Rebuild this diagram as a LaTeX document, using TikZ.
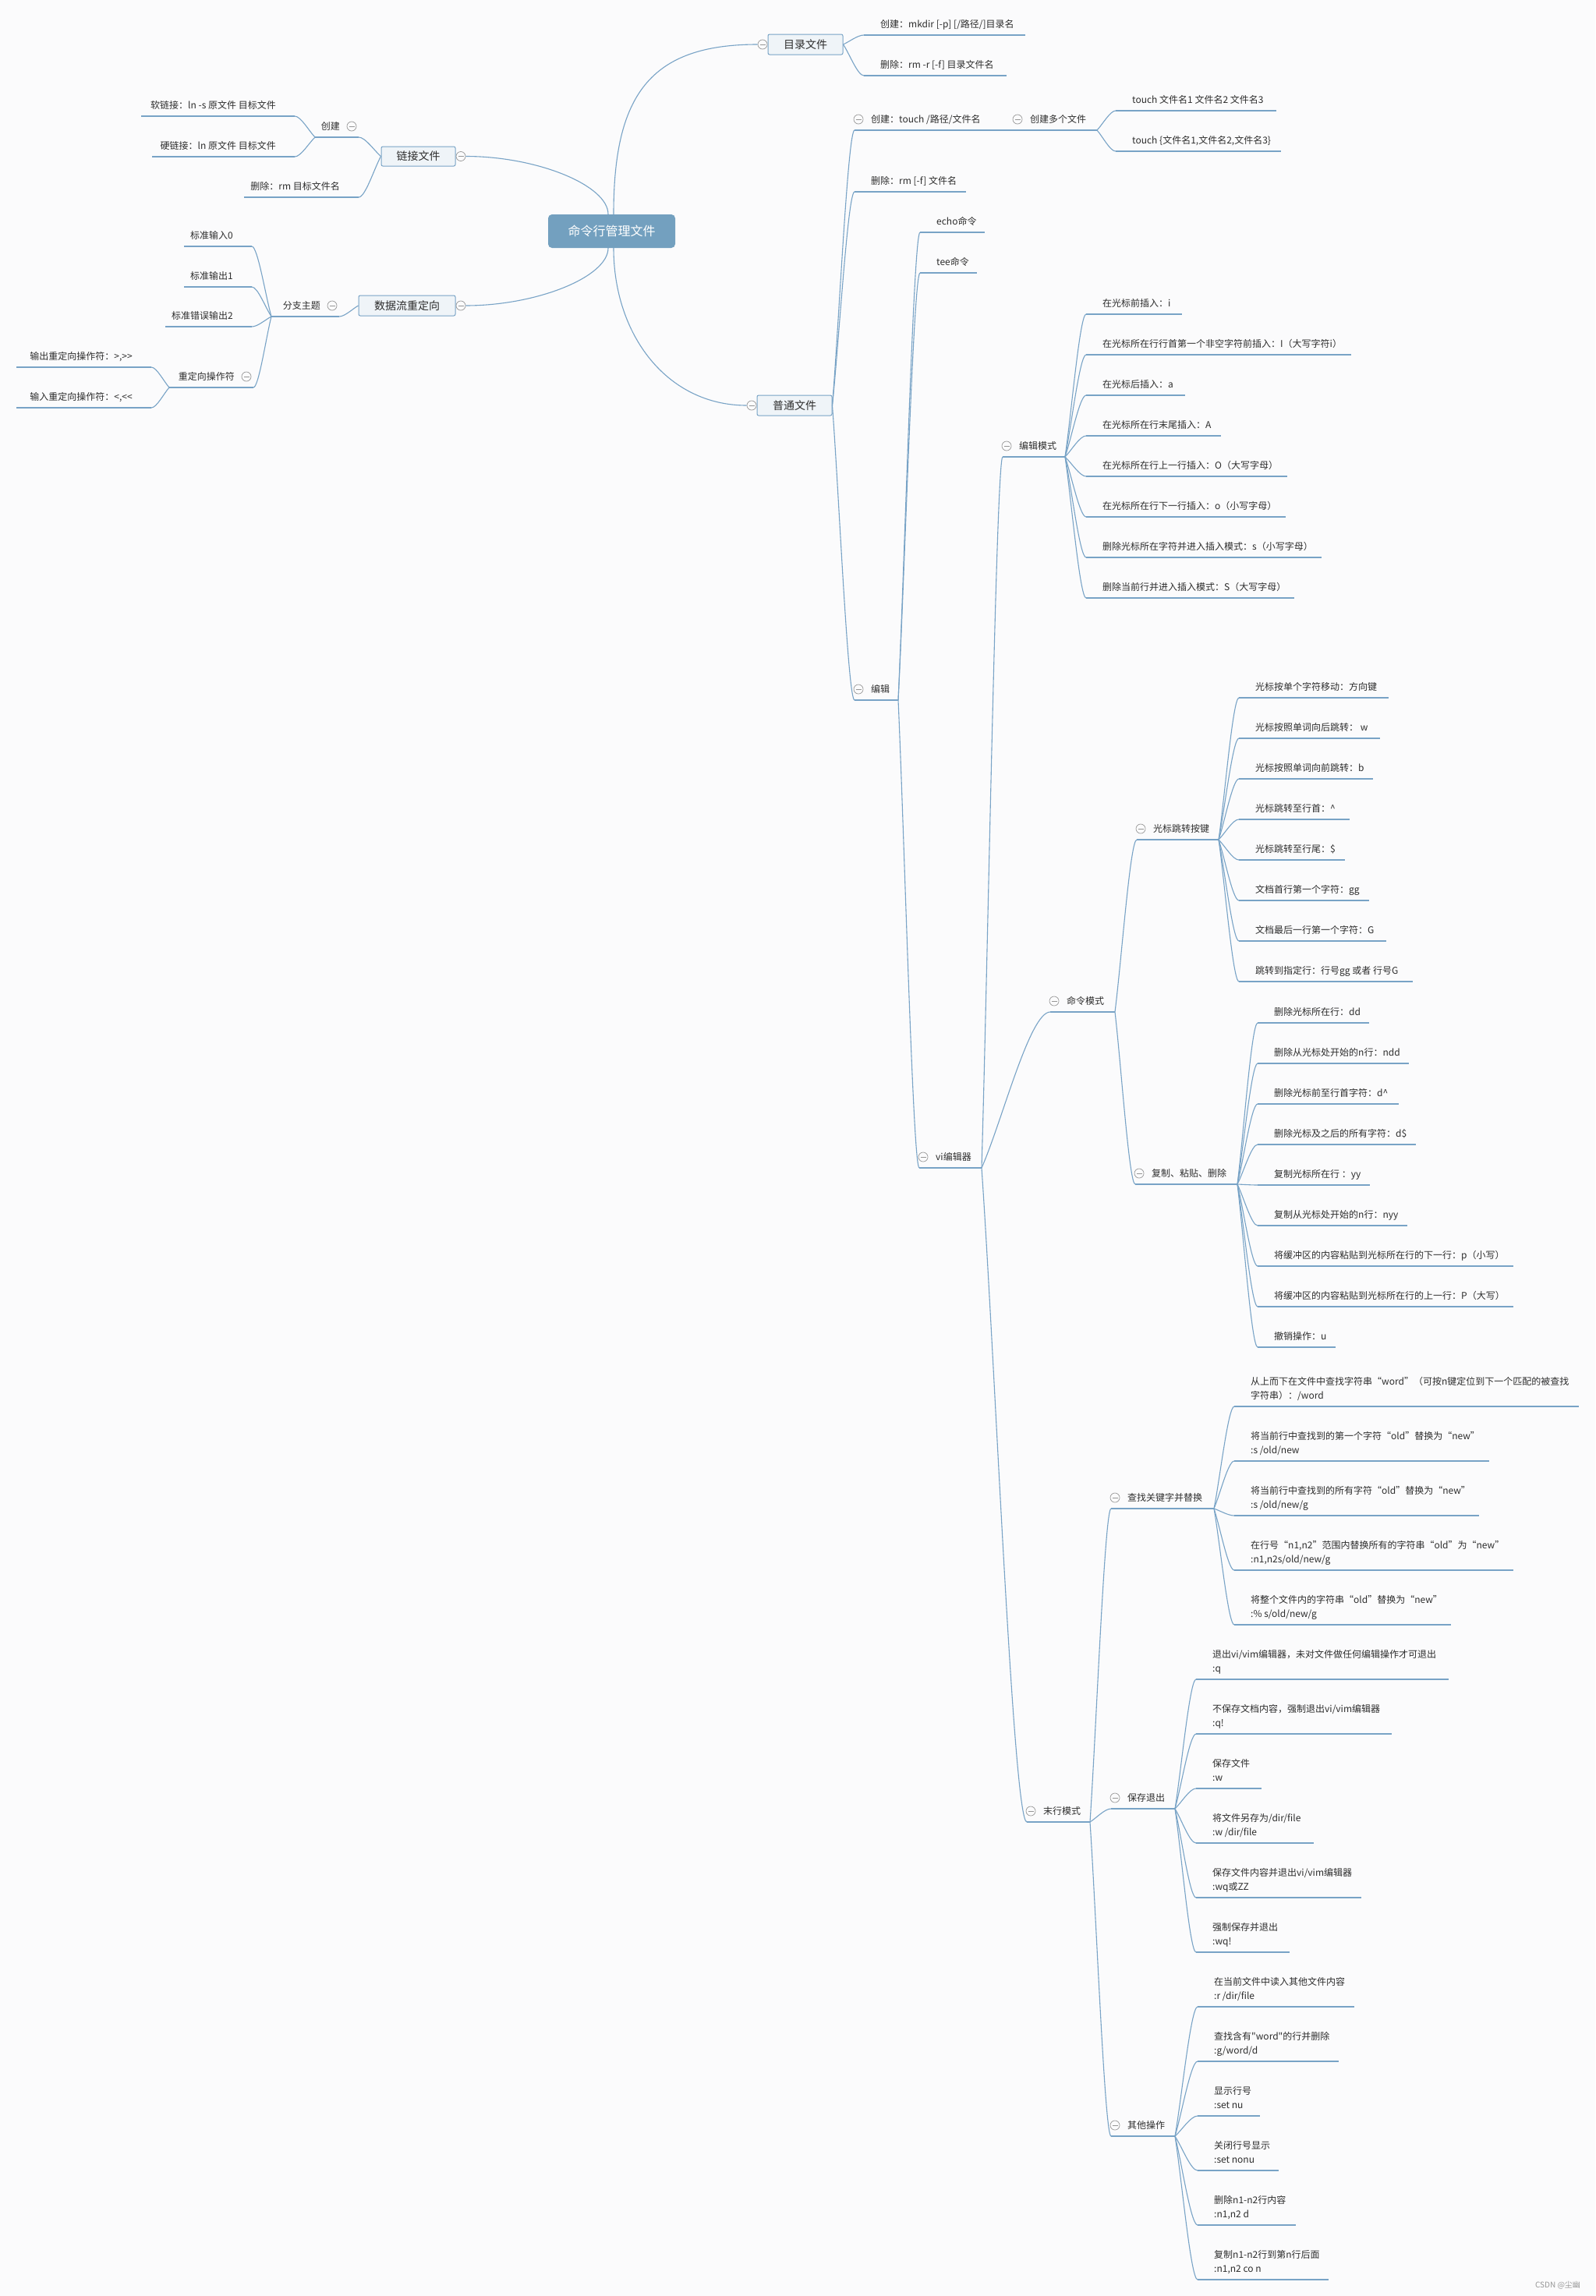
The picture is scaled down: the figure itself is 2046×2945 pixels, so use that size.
\documentclass[tikz,border=0pt]{standalone}
\usepackage{fontspec}
\setmainfont{Noto Sans CJK SC}[Ligatures=TeXOff]
\usetikzlibrary{calc}
\definecolor{bgc}{RGB}{251,251,252}
\definecolor{linec}{RGB}{120,163,198}
\definecolor{rootc}{RGB}{115,160,191}
\definecolor{boxc}{RGB}{239,244,248}
\definecolor{foldc}{RGB}{150,150,150}
\definecolor{txtc}{RGB}{45,45,45}
\tikzset{
  branch/.style={draw=linec, line width=1.1pt},
  uline/.style={draw=linec, line width=1.1pt},
  leaf/.style={inner sep=0pt, text=txtc, font=\fontsize{12}{18}\selectfont},
  fold/.style={circle, draw=foldc, fill=bgc, minimum size=12pt, inner sep=0pt, line width=0.7pt,
    path picture={\draw[foldc, line width=0.7pt] ($(path picture bounding box.west)+(2.5,0)$) -- ($(path picture bounding box.east)+(-2.5,0)$);}},
  topbox/.style={draw=linec, fill=boxc, rounded corners=2pt, line width=1pt, text=txtc, font=\fontsize{14}{16}\selectfont, inner sep=0pt},
  rootbox/.style={fill=rootc, rounded corners=5pt, text=white, font=\fontsize{16}{18}\selectfont, inner sep=0pt}
}
% right-side topic: name, left x, underline y, right x, text
\newcommand\rt[5]{%
  \coordinate (#1L) at (#2,#3);
  \coordinate (#1R) at (#4,#3);
  \draw[uline] (#1L) -- (#1R);
  \node[leaf, anchor=base west] (#1) at (#2+21,#3-9.5) {#5};}
\newcommand\rtc[5]{\rt{#1}{#2}{#3}{#4}{#5}\node[fold] (#1C) at (#2+5,#3-14) {};}
% two-line right topic (base anchor = last line)
\newcommand\rtt[6]{%
  \coordinate (#1L) at (#2,#3);
  \coordinate (#1R) at (#4,#3);
  \draw[uline] (#1L) -- (#1R);
  \node[leaf, align=left, anchor=base west] (#1) at (#2+21,#3-9.5) {#5\\#6};}
% left-side topic
\newcommand\lt[5]{%
  \coordinate (#1L) at (#2,#3);
  \coordinate (#1R) at (#4,#3);
  \draw[uline] (#1L) -- (#1R);
  \node[leaf, anchor=base east] (#1) at (#4-24,#3-9.5) {#5};}
\newcommand\ltc[5]{\lt{#1}{#2}{#3}{#4}{#5}\node[fold] (#1C) at (#4-9,#3-14) {};}
% connectors
\newcommand\conn[2]{\draw[branch] (#1) .. controls ($(#1)!0.3!(#2)$) and ($(#1|-#2)!0.7!(#2)$) .. (#2);}
\newcommand\rconn[4]{\draw[branch] (#1) .. controls ($(#1)!#3!(#1|-#2)$) and ($(#1|-#2)!#4!(#2)$) .. (#2);}

\begin{document}
\begin{tikzpicture}[x=1pt,y=-1pt]
\useasboundingbox (0,0) rectangle (2046,2945);
\fill[bgc] (0,0) rectangle (2046,2945);

% root
\node[rootbox, minimum width=163pt, minimum height=43pt] (root) at (784.5,296.5) {命令行管理文件};
\coordinate (rootTR) at ($(root.north)+(2.5,0)$);
\coordinate (rootTL) at ($(root.north)+(-4.5,0)$);
\coordinate (rootBR) at ($(root.south)+(2.5,0)$);
\coordinate (rootBL) at ($(root.south)+(-4.5,0)$);

% ---------- 目录文件
\node[topbox, minimum width=96pt, minimum height=26pt] (dir) at (1033,57) {目录文件};
\node[fold] (dirC) at (978,57) {};
\rconn{rootTR}{dirC.west}{0.7}{0.25}
\rt{mkdir}{1108}{45}{1315}{创建：mkdir [-p] [/路径/]目录名}
\rt{rmdir}{1108}{97}{1291}{删除：rm -r [-f] 目录文件名}
\conn{dir.east}{mkdirL}
\conn{dir.east}{rmdirL}

% ---------- 普通文件
\node[topbox, minimum width=96pt, minimum height=26pt] (normal) at (1019,520) {普通文件};
\node[fold] (normalC) at (964,520) {};
\rconn{rootBR}{normalC.west}{0.55}{0.4}
\rtc{touch}{1096}{167}{1290}{创建：touch /路径/文件名}
\rtc{multi}{1300}{167}{1407}{创建多个文件}
\conn{touchR}{multiL}
\rt{touchA}{1431}{142}{1637}{touch 文件名1 文件名2 文件名3}
\rt{touchB}{1431}{194}{1643}{touch \{文件名1,文件名2,文件名3\}}
\conn{multiR}{touchAL}
\conn{multiR}{touchBL}
\rt{rmfile}{1096}{246}{1239}{删除：rm [-f] 文件名}
\rtc{edit}{1096}{898}{1152}{编辑}
\conn{normal.east}{touchL}
\conn{normal.east}{rmfileL}
\conn{normal.east}{editL}
\rt{echo}{1180}{298}{1263}{echo命令}
\rt{tee}{1180}{350}{1253}{tee命令}
\rtc{vi}{1179}{1498}{1259}{vi编辑器}
\conn{editR}{echoL}
\conn{editR}{teeL}
\conn{editR}{viL}

% vi modes
\rtc{emode}{1286}{586}{1366}{编辑模式}
\rtc{cmode}{1347}{1298}{1430}{命令模式}
\rtc{lmode}{1317}{2337}{1398}{末行模式}
\conn{viR}{emodeL}
\conn{viR}{cmodeL}
\conn{viR}{lmodeL}

% 编辑模式 children
\rt{ea}{1393}{403}{1516}{在光标前插入：i}
\rt{eb}{1393}{455}{1733}{在光标所在行行首第一个非空字符前插入：I（大写字符i）}
\rt{ec}{1393}{507}{1520}{在光标后插入：a}
\rt{ed}{1393}{559}{1566}{在光标所在行末尾插入：A}
\rt{ee}{1393}{611}{1651}{在光标所在行上一行插入：O（大写字母）}
\rt{ef}{1393}{663}{1649}{在光标所在行下一行插入：o（小写字母）}
\rt{eg}{1393}{715}{1695}{删除光标所在字符并进入插入模式：s（小写字母）}
\rt{eh}{1393}{767}{1660}{删除当前行并进入插入模式：S（大写字母）}
\foreach \k in {ea,eb,ec,ed,ee,ef,eg,eh}{\conn{emodeR}{\k L}}

% 命令模式
\rtc{cursor}{1458}{1077}{1563}{光标跳转按键}
\rtc{copy}{1456}{1519}{1587}{复制、粘贴、删除}
\conn{cmodeR}{cursorL}
\conn{cmodeR}{copyL}
\rt{ca}{1589}{895}{1781}{光标按单个字符移动：方向键}
\rt{cb}{1589}{947}{1770}{光标按照单词向后跳转： w}
\rt{cc}{1589}{999}{1761}{光标按照单词向前跳转：b}
\rt{cd}{1589}{1051}{1731}{光标跳转至行首：\textasciicircum}
\rt{ce}{1589}{1103}{1725}{光标跳转至行尾：\$}
\rt{cf}{1589}{1155}{1756}{文档首行第一个字符：gg}
\rt{cg}{1589}{1207}{1778}{文档最后一行第一个字符：G}
\rt{ch}{1589}{1259}{1812}{跳转到指定行：行号gg 或者 行号G}
\foreach \k in {ca,cb,cc,cd,ce,cf,cg,ch}{\conn{cursorR}{\k L}}
\rt{pa}{1613}{1312}{1756}{删除光标所在行：dd}
\rt{pb}{1613}{1364}{1807}{删除从光标处开始的n行：ndd}
\rt{pc}{1613}{1416}{1794}{删除光标前至行首字符：d\textasciicircum}
\rt{pd}{1613}{1468}{1816}{删除光标及之后的所有字符：d\$}
\rt{pe}{1613}{1520}{1757}{复制光标所在行 ：yy}
\rt{pf}{1613}{1572}{1805}{复制从光标处开始的n行：nyy}
\rt{pg}{1613}{1624}{1941}{将缓冲区的内容粘贴到光标所在行的下一行：p（小写）}
\rt{ph}{1613}{1676}{1941}{将缓冲区的内容粘贴到光标所在行的上一行：P（大写）}
\rt{pi}{1613}{1728}{1713}{撤销操作：u}
\foreach \k in {pa,pb,pc,pd,pe,pf,pg,ph,pi}{\conn{copyR}{\k L}}

% 末行模式
\rtc{find}{1425}{1935}{1557}{查找关键字并替换}
\rtc{save}{1425}{2320}{1507}{保存退出}
\rtc{other}{1425}{2740}{1507}{其他操作}
\conn{lmodeR}{findL}
\conn{lmodeR}{saveL}
\conn{lmodeR}{otherL}
\rtt{fa}{1583}{1804}{2025}{从上而下在文件中查找字符串“word”（可按n键定位到下一个匹配的被查找}{字符串）：/word}
\rtt{fb}{1583}{1874}{1910}{将当前行中查找到的第一个字符“old”替换为“new”}{:s /old/new}
\rtt{fc}{1583}{1944}{1897}{将当前行中查找到的所有字符“old”替换为“new”}{:s /old/new/g}
\rtt{fd}{1583}{2014}{1941}{在行号“n1,n2”范围内替换所有的字符串“old”为“new”}{:n1,n2s/old/new/g}
\rtt{fe}{1583}{2084}{1861}{将整个文件内的字符串“old”替换为“new”}{:\% s/old/new/g}
\foreach \k in {fa,fb,fc,fd,fe}{\conn{findR}{\k L}}
\rtt{sa}{1534}{2154}{1858}{退出vi/vim编辑器，未对文件做任何编辑操作才可退出}{:q}
\rtt{sb}{1534}{2224}{1785}{不保存文档内容，强制退出vi/vim编辑器}{:q!}
\rtt{sc}{1534}{2294}{1618}{保存文件}{:w}
\rtt{sd}{1534}{2364}{1685}{将文件另存为/dir/file}{:w /dir/file}
\rtt{se}{1534}{2434}{1746}{保存文件内容并退出vi/vim编辑器}{:wq或ZZ}
\rtt{sf}{1534}{2504}{1654}{强制保存并退出}{:wq!}
\foreach \k in {sa,sb,sc,sd,se,sf}{\conn{saveR}{\k L}}
\rtt{oa}{1536}{2574}{1737}{在当前文件中读入其他文件内容}{:r /dir/file}
\rtt{ob}{1536}{2644}{1717}{查找含有"word"的行并删除}{:g/word/d}
\rtt{oc}{1536}{2714}{1616}{显示行号}{:set nu}
\rtt{od}{1536}{2784}{1640}{关闭行号显示}{:set nonu}
\rtt{oe}{1536}{2854}{1662}{删除n1-n2行内容}{:n1,n2 d}
\rtt{of}{1536}{2924}{1704}{复制n1-n2行到第n行后面}{:n1,n2 co n}
\foreach \k in {oa,ob,oc,od,oe,of}{\conn{otherR}{\k L}}

% ---------- 链接文件 (left)
\node[topbox, minimum width=95pt, minimum height=25pt] (link) at (536.5,200.5) {链接文件};
\node[fold] (linkC) at (591,200.5) {};
\rconn{rootTL}{linkC.east}{0.5}{0.5}
\ltc{lcreate}{404}{176}{460}{创建}
\lt{lrm}{313}{253}{460}{删除：rm 目标文件名}
\conn{link.west}{lcreateR}
\conn{link.west}{lrmR}
\lt{soft}{181}{149}{378}{软链接：ln -s 原文件 目标文件}
\lt{hard}{195}{201}{378}{硬链接：ln 原文件 目标文件}
\conn{lcreateL}{softR}
\conn{lcreateL}{hardR}

% ---------- 数据流重定向 (left)
\node[topbox, minimum width=124pt, minimum height=26pt] (redir) at (522,392) {数据流重定向};
\node[fold] (redirC) at (591,392) {};
\rconn{rootBL}{redirC.east}{0.5}{0.5}
\ltc{subj}{348}{406}{435}{分支主题}
\conn{redir.west}{subjR}
\lt{in0}{236}{316}{323}{标准输入0}
\lt{out1}{236}{368}{323}{标准输出1}
\lt{err2}{212}{419}{323}{标准错误输出2}
\ltc{ops}{217}{497}{325}{重定向操作符}
\foreach \k in {in0,out1,err2,ops}{\conn{subjL}{\k R}}
\lt{outop}{21}{471}{194}{输出重定向操作符：\mbox{>},\mbox{>}\mbox{>}}
\lt{inop}{21}{523}{194}{输入重定向操作符：\mbox{<},\mbox{<}\mbox{<}}
\conn{opsL}{outopR}
\conn{opsL}{inopR}

% watermark
\node[inner sep=0pt, text=foldc, font=\fontsize{10}{12}\selectfont] (wm) at (1998,2931) {CSDN @尘幽};
\end{tikzpicture}
\end{document}
